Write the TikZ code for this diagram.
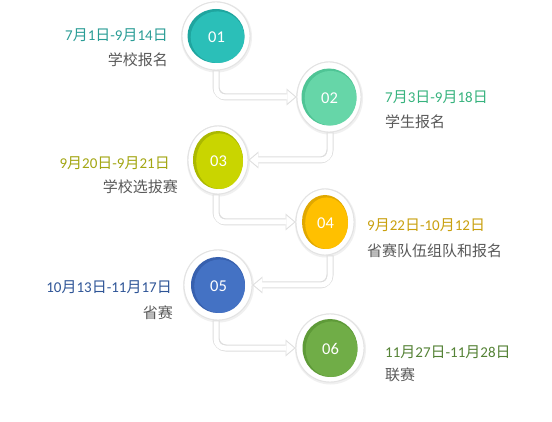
\documentclass[tikz,border=0pt]{standalone}
\usepackage{fontspec}
\setmainfont{Carlito}
\newfontfamily\cjk{Noto Sans CJK SC}
\usetikzlibrary{arrows.meta,shapes.geometric}
\definecolor{cA}{HTML}{2BBFB8}\definecolor{cAd}{HTML}{1FA59F}\definecolor{tA}{HTML}{2A9D96}
\definecolor{cB}{HTML}{66D6A8}\definecolor{cBd}{HTML}{4FC495}\definecolor{tB}{HTML}{37B37E}
\definecolor{cC}{HTML}{C9D500}\definecolor{cCd}{HTML}{ABB800}\definecolor{tC}{HTML}{A3A612}
\definecolor{cD}{HTML}{FFC000}\definecolor{cDd}{HTML}{E0A800}\definecolor{tD}{HTML}{C9A00E}
\definecolor{cE}{HTML}{4472C4}\definecolor{cEd}{HTML}{3760AE}\definecolor{tE}{HTML}{2F5597}
\definecolor{cF}{HTML}{70AD47}\definecolor{cFd}{HTML}{5E9A38}\definecolor{tF}{HTML}{548235}
\definecolor{txt}{HTML}{595959}
\newcommand\dd[4]{#1{\cjk 月}#2{\cjk 日}-#3{\cjk 月}#4{\cjk 日}}
\tikzset{
  ring/.style={ellipse, draw=black!11, line width=0.9pt, fill=white, inner sep=0pt},
  shad/.style={ellipse, fill=black!6, inner sep=0pt},
  num/.style={text=white, font=\fontsize{16.5}{18}\selectfont},
  datel/.style={font=\fontsize{15}{17}\selectfont, inner sep=0pt},
  namel/.style={font=\cjk\fontsize{15}{18}\selectfont, text=txt, inner sep=0pt},
  connB/.style={draw=black!13, line width=7pt, rounded corners=10pt,
    -{Triangle[length=10pt,width=17pt,line width=0pt]}},
  connW/.style={draw=white, line width=5pt, rounded corners=9pt, shorten >=1.5pt,
    -{Triangle[length=7.8pt,width=13pt,line width=0pt]}}
}
\begin{document}
\begin{tikzpicture}[x=1pt,y=-1pt]
\useasboundingbox (0,0) rectangle (552,422);
\fill[white] (0,0) rectangle (552,422);
% circle frames (named, for the connectors)
\foreach \n/\x/\y/\rx/\ry in {1/216/36/34/34, 2/329/97/32/35, 3/218/160/30/34,
                              4/325/222/29/33, 5/218/285/34/35, 6/330/348/34/34}{
  \node[shad, minimum width=2*\rx pt+3pt, minimum height=2*\ry pt+3pt] at (\x+0.5,\y+1) {};
  \node[ring, minimum width=2*\rx pt, minimum height=2*\ry pt] (o\n) at (\x,\y) {};
}
% connectors
\foreach \a/\b/\dx in {o1/o2/0,o2/o3/1,o3/o4/-2,o4/o5/5,o5/o6/-2}{
  \draw[connB] ([xshift=\dx]\a.south) |- (\b);
}
\foreach \a/\b/\dx in {o1/o2/0,o2/o3/1,o3/o4/-2,o4/o5/5,o5/o6/-2}{
  \draw[connW] ([xshift=\dx,yshift=-1pt]\a.south) |- (\b);
}
% circles on top of connector ends
\foreach \n/\x/\y/\rx/\ry/\irx/\iry/\dk/\lt/\t in {
  1/216/36/34/34/28.5/27/cAd/cA/01,
  2/329/97/32/35/27.5/28.5/cBd/cB/02,
  3/218/160/30/34/25/29/cCd/cC/03,
  4/325/222/29/33/23/27/cDd/cD/04,
  5/218/285/34/35/27/28/cEd/cE/05,
  6/330/348/34/34/27.5/29/cFd/cF/06}{
  \node[ring, minimum width=2*\rx pt, minimum height=2*\ry pt] (r\n) at (\x,\y) {};
  \fill[\dk] (\x,\y) ellipse [x radius=\irx, y radius=\iry];
  \fill[\lt] (\x+1.6,\y+1.2) ellipse [x radius=\irx-1.6, y radius=\iry-1.2];
  \node[num] (n\n) at (\x+0.5,\y+1) {\t};
}
% texts
\node[datel, text=tA, anchor=east] (d1) at (168,35) {\dd{7}{1}{9}{14}};
\node[namel, anchor=east] (l1) at (168,60) {学校报名};
\node[datel, text=tB, anchor=west] (d2) at (385,97) {\dd{7}{3}{9}{18}};
\node[namel, anchor=west] (l2) at (385,122) {学生报名};
\node[datel, text=tC, anchor=east] (d3) at (170,163) {\dd{9}{20}{9}{21}};
\node[namel, anchor=east] (l3) at (178,187) {学校选拔赛};
\node[datel, text=tD, anchor=west] (d4) at (367,225) {\dd{9}{22}{10}{12}};
\node[namel, anchor=west] (l4) at (367,251) {省赛队伍组队和报名};
\node[datel, text=tE, anchor=east] (d5) at (172,287) {\dd{10}{13}{11}{17}};
\node[namel, anchor=east] (l5) at (173,313) {省赛};
\node[datel, text=tF, anchor=west] (d6) at (385,352) {\dd{11}{27}{11}{28}};
\node[namel, anchor=west] (l6) at (385,375) {联赛};
\end{tikzpicture}
\end{document}
